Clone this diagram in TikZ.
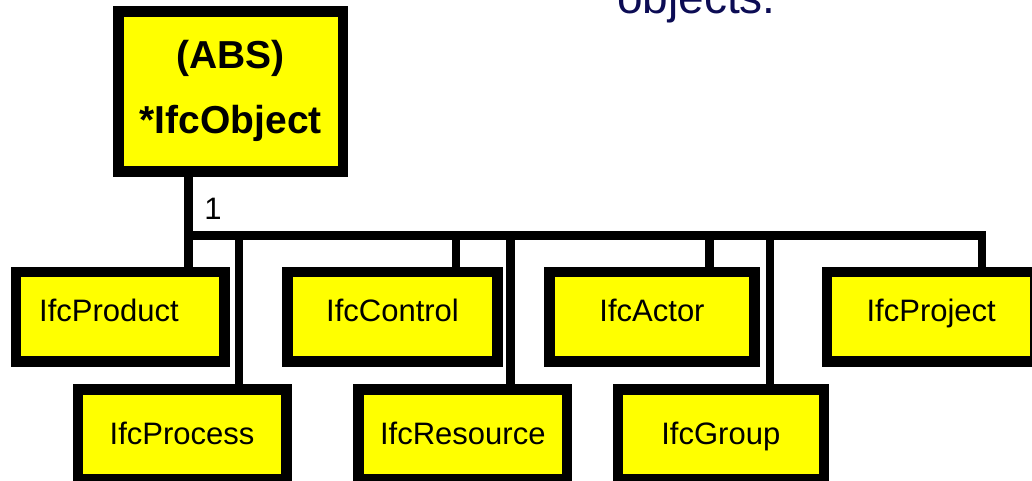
\documentclass[tikz,border=0pt]{standalone}
\usepackage{fontspec}
\setmainfont{Liberation Sans}
\usetikzlibrary{calc}
\definecolor{ifcyellow}{RGB}{255,255,0}
\definecolor{titlenavy}{RGB}{12,12,84}

\begin{document}
\begin{tikzpicture}[x=1pt,y=-1pt,
  classbox/.style={draw=black,fill=ifcyellow,line width=10.5pt,inner sep=0pt,
    minimum width=208.5pt,minimum height=89.5pt,text height=22pt,text depth=12pt,
    font=\fontsize{31}{37}\selectfont},
  lowbox/.style={classbox,text depth=0.6pt},
  link/.style={line width=8.5pt}]

% Frame
\clip (0,0) rectangle (1032,480);

% Parameters
\def\rowA{316.7}
\def\rowB{434}
\def\busY{235.5}

% Heading (cut off at the top)
\node[anchor=base west,inner sep=0pt,text=titlenavy,
  font=\fontsize{46}{55}\selectfont] (heading) at (617,13) {objects.};

% Supertype
\node[classbox,minimum width=224.5pt,minimum height=160pt,align=center,
  text height=,text depth=,font=\fontsize{39}{65}\bfseries\selectfont]
  (object) at (230.8,91.3) {(ABS)\\*IfcObject};

% Subtypes
\node[classbox] (product) at (120,\rowA) {IfcProduct\hspace*{22pt}};
\node[classbox,minimum width=210pt] (control) at (392.5,\rowA) {IfcControl};
\node[classbox,minimum width=205pt] (actor) at (652,\rowA) {IfcActor};
\node[classbox] (project) at (931.2,\rowA) {IfcProject};
\node[lowbox] (process) at (182,\rowB) {IfcProcess};
\node[lowbox] (resource) at (462.8,\rowB) {IfcResource};
\node[lowbox,minimum width=206pt] (group) at (720.8,\rowB) {IfcGroup};

% Bus
\coordinate (bus west) at (188.5,\busY);
\coordinate (bus east) at (982,\busY);
\draw[link] (object.south -| bus west) -- (product.north -| bus west);
\draw[link] (bus west) -- (bus east) -- (bus east |- project.north);

% Taps
\foreach \n/\x in {process/239,control/456,resource/510.5,actor/709.7,group/770}
{
\coordinate (tap \n) at (\x,\busY);
\draw[link] (tap \n) -- (tap \n |- \n.north);
}

% Cardinality
\node[font=\fontsize{31}{37}\selectfont,inner sep=0pt] (card) at (213,209) {1};

\end{tikzpicture}
\end{document}
